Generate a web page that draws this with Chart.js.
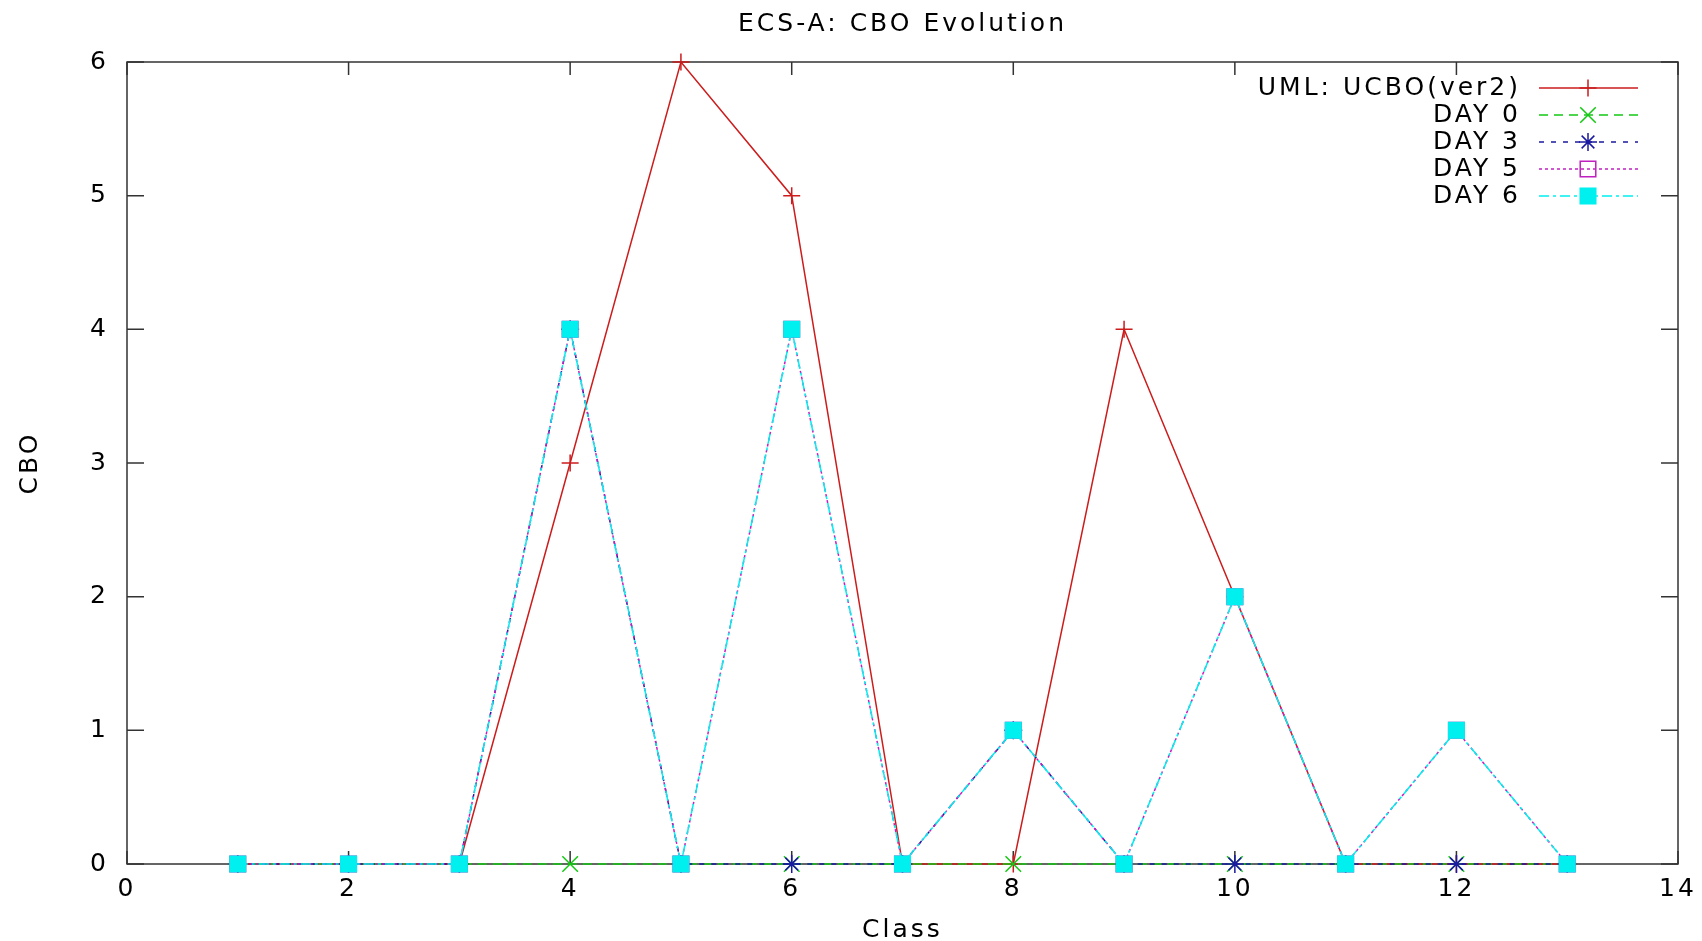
<!DOCTYPE html>
<html>
<head>
<meta charset="utf-8">
<title>ECS-A: CBO Evolution</title>
<script src="https://cdn.jsdelivr.net/npm/chart.js@4.4.1/dist/chart.umd.min.js"></script>
<style>
  html, body { margin: 0; padding: 0; background: #fff; }
  #grafico { display: block; }
</style>
</head>
<body>
<canvas id="grafico" width="1702" height="941"></canvas>
<script>
// datos
const clases = [1, 2, 3, 4, 5, 6, 7, 8, 9, 10, 11, 12, 13];
const umlUcbo = [0, 0, 0, 3, 6, 5, 0, 0, 4, 2, 0, 0, 0];
const dia0 = [0, 0, 0, 0, 0, 0, 0, 0, 0, 0, 0, 0, 0];
const dia3 = [0, 0, 0, 4, 0, 0, 0, 1, 0, 0, 0, 0, 0];
const dia5 = [0, 0, 0, 4, 0, 4, 0, 1, 0, 2, 0, 1, 0];
const dia6 = [0, 0, 0, 4, 0, 4, 0, 1, 0, 2, 0, 1, 0];
const ticksX = [0, 2, 4, 6, 8, 10, 12, 14];
const ticksY = [0, 1, 2, 3, 4, 5, 6];

const fuente = "'DejaVu Sans', 'Liberation Sans', sans-serif";

function puntos(valores) {
    return clases.map((c, i) => ({ x: c, y: valores[i] }));
}

function serie(label, valores, color, estilo, radio, guiones, relleno, orden) {
    return {
        label: label,
        data: puntos(valores),
        borderColor: color,
        backgroundColor: relleno,
        borderWidth: 1.5,
        borderDash: guiones,
        pointStyle: estilo,
        pointRadius: radio,
        pointBorderColor: color,
        pointBackgroundColor: relleno,
        pointBorderWidth: 1.5,
        tension: 0,
        fill: false,
        clip: false,
        order: orden
    };
}

const espaciado = {
    id: 'espaciado',
    beforeUpdate(chart) { chart.ctx.letterSpacing = '3px'; },
    beforeDraw(chart) { chart.ctx.letterSpacing = '3px'; }
};

// marco con marcas hacia dentro, como gnuplot
const marco = {
    id: 'marco',
    beforeDatasetsDraw(chart) {
        const ctx = chart.ctx;
        const a = chart.chartArea;
        const sx = chart.scales.x;
        const sy = chart.scales.y;
        ctx.save();
        ctx.strokeStyle = '#333';
        ctx.lineWidth = 1.5;
        ctx.setLineDash([]);
        ctx.strokeRect(a.left, a.top, a.right - a.left, a.bottom - a.top);
        ctx.beginPath();
        ticksX.forEach(v => {
            const px = sx.getPixelForValue(v);
            ctx.moveTo(px, a.bottom); ctx.lineTo(px, a.bottom - 13);
            ctx.moveTo(px, a.top); ctx.lineTo(px, a.top + 13);
        });
        ticksY.forEach(v => {
            const py = sy.getPixelForValue(v);
            ctx.moveTo(a.left, py); ctx.lineTo(a.left + 17, py);
            ctx.moveTo(a.right, py); ctx.lineTo(a.right - 17, py);
        });
        ctx.stroke();
        ctx.restore();
    }
};

// leyenda dentro del area, texto a la izquierda de la muestra
const leyenda = {
    id: 'leyenda',
    afterDraw(chart) {
        const ctx = chart.ctx;
        const a = chart.chartArea;
        ctx.save();
        ctx.font = '25px ' + fuente;
        ctx.textAlign = 'right';
        ctx.textBaseline = 'middle';
        chart.data.datasets.forEach((ds, i) => {
            const y = a.top + 26 + i * 27;
            ctx.fillStyle = '#000';
            ctx.fillText(ds.label, a.right - 157, y);
            ctx.strokeStyle = ds.borderColor;
            ctx.lineWidth = 1.5;
            ctx.setLineDash(ds.borderDash);
            ctx.beginPath();
            ctx.moveTo(a.right - 139, y);
            ctx.lineTo(a.right - 40, y);
            ctx.stroke();
            ctx.setLineDash([]);
            ctx.fillStyle = ds.pointBackgroundColor;
            Chart.helpers.drawPoint(ctx, {
                pointStyle: ds.pointStyle,
                radius: ds.pointRadius,
                rotation: 0,
                borderWidth: 1.5
            }, a.right - 90, y);
        });
        ctx.restore();
    }
};

const datasets = [
    serie('UML: UCBO(ver2)', umlUcbo, '#cc1c1c', 'cross', 8.5, [], 'rgba(0,0,0,0)', 5),
    serie('DAY 0', dia0, '#14c814', 'crossRot', 11, [9, 6], 'rgba(0,0,0,0)', 4),
    serie('DAY 3', dia3, '#1a1aa0', 'star', 9, [5, 7], 'rgba(0,0,0,0)', 3),
    serie('DAY 5', dia5, '#c020c0', 'rect', 11, [3, 3], 'rgba(0,0,0,0)', 2),
    serie('DAY 6', dia6, '#00f0f0', 'rect', 11, [10, 4, 3, 4], '#00f0f0', 1)
];

new Chart(document.getElementById('grafico'), {
    type: 'line',
    data: { datasets: datasets },
    options: {
        responsive: false,
        animation: false,
        events: [],
        layout: { padding: { right: 24, left: 0, bottom: 0, top: 0 } },
        plugins: {
            legend: { display: false },
            tooltip: { enabled: false },
            title: {
                display: true,
                text: 'ECS-A: CBO Evolution',
                color: '#000',
                fullSize: false,
                font: { family: fuente, size: 25, weight: 'normal' },
                padding: { top: 9, bottom: 23 }
            }
        },
        scales: {
            x: {
                type: 'linear',
                min: 0,
                max: 14,
                afterBuildTicks: s => { s.ticks = ticksX.map(v => ({ value: v })); },
                afterFit: s => { s.height = 77; },
                grid: { display: false },
                border: { display: false },
                ticks: { color: '#000', padding: 2, font: { family: fuente, size: 25 } },
                title: {
                    display: true,
                    text: 'Class',
                    color: '#000',
                    padding: { top: -4, bottom: -4 },
                    font: { family: fuente, size: 25 }
                }
            },
            y: {
                type: 'linear',
                min: 0,
                max: 6,
                afterBuildTicks: s => { s.ticks = ticksY.map(v => ({ value: v })); },
                afterFit: s => { s.width = 127; },
                grid: { display: false },
                border: { display: false },
                ticks: { color: '#000', padding: 10, font: { family: fuente, size: 25 } },
                title: {
                    display: true,
                    text: 'CBO',
                    color: '#000',
                    padding: 15,
                    font: { family: fuente, size: 25 }
                }
            }
        }
    },
    plugins: [espaciado, marco, leyenda]
});
</script>
</body>
</html>
